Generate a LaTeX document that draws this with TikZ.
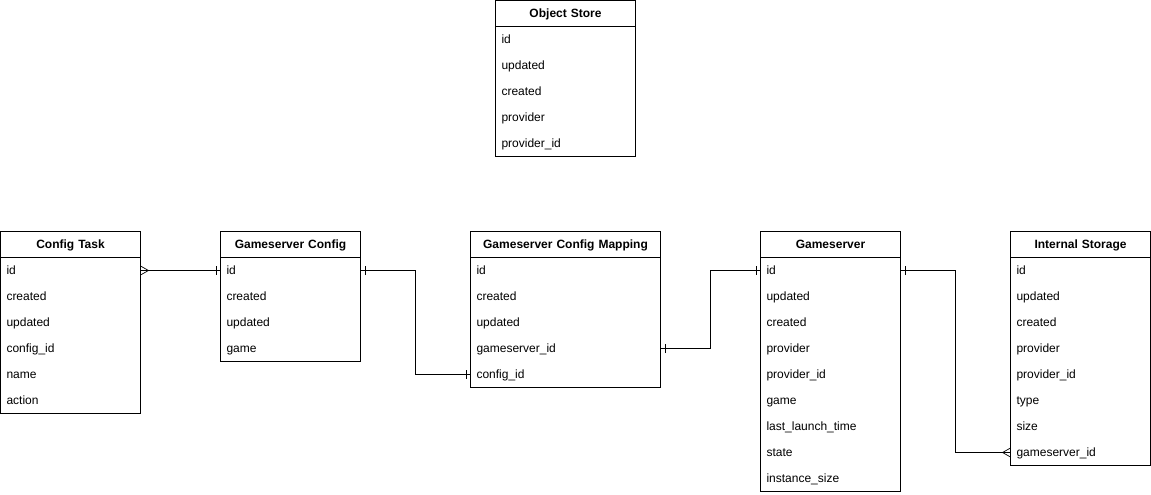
\documentclass[tikz,border=0pt]{standalone}
\usepackage{fontspec}
\setmainfont{Liberation Sans}
\usetikzlibrary{positioning, arrows.meta}

% ER notation tips
\pgfdeclarearrow{
  name = ER one,
  setup code = {
    \pgfarrowssettipend{0pt}
    \pgfarrowssetlineend{0pt}
    \pgfarrowssetbackend{-6pt}
  },
  drawing code = {
    \pgfpathmoveto{\pgfqpoint{-4.5pt}{4.5pt}}
    \pgfpathlineto{\pgfqpoint{-4.5pt}{-4.5pt}}
    \pgfusepathqstroke
  }
}
\pgfdeclarearrow{
  name = ER many,
  setup code = {
    \pgfarrowssettipend{0pt}
    \pgfarrowssetlineend{0pt}
    \pgfarrowssetbackend{-9pt}
  },
  drawing code = {
    \pgfpathmoveto{\pgfqpoint{0pt}{4.5pt}}
    \pgfpathlineto{\pgfqpoint{-8pt}{0pt}}
    \pgfpathlineto{\pgfqpoint{0pt}{-4.5pt}}
    \pgfusepathqstroke
  }
}

\tikzset{
    tablehead/.style={rectangle, draw=black, line width=0.7pt, text width=#1, minimum height=26pt, text height=10pt, text depth=1.5pt, inner xsep=6pt, inner ysep=0pt, outer sep=0pt, align=center, font=\fontsize{12}{14}\selectfont\bfseries},
    tablerow/.style={rectangle, text width=#1, minimum height=26pt, text height=10pt, text depth=1.5pt, inner xsep=6pt, inner ysep=0pt, outer sep=0pt, align=left, font=\fontsize{12}{14}\selectfont},
    tablebody/.style={draw=black, line width=0.7pt},
    erline/.style={draw=black, line width=0.7pt}
}

\begin{document}
\begin{tikzpicture}[x=1pt, y=-1pt]
    \useasboundingbox (0,0) rectangle (1151,495);

    \node (os-head) [tablehead=128pt, anchor=north west] at (495.5, 0.5) {Object Store};
    \node (os-id) [tablerow=128pt, below=0pt of os-head] {id};
    \node (os-updated) [tablerow=128pt, below=0pt of os-id] {updated};
    \node (os-created) [tablerow=128pt, below=0pt of os-updated] {created};
    \node (os-provider) [tablerow=128pt, below=0pt of os-created] {provider};
    \node (os-providerid) [tablerow=128pt, below=0pt of os-provider] {provider\_id};
    \draw [tablebody] (os-head.south west) rectangle (os-providerid.south east);

    \node (ct-head) [tablehead=128pt, anchor=north west] at (0.5, 231.5) {Config Task};
    \node (ct-id) [tablerow=128pt, below=0pt of ct-head] {id};
    \node (ct-created) [tablerow=128pt, below=0pt of ct-id] {created};
    \node (ct-updated) [tablerow=128pt, below=0pt of ct-created] {updated};
    \node (ct-configid) [tablerow=128pt, below=0pt of ct-updated] {config\_id};
    \node (ct-name) [tablerow=128pt, below=0pt of ct-configid] {name};
    \node (ct-action) [tablerow=128pt, below=0pt of ct-name] {action};
    \draw [tablebody] (ct-head.south west) rectangle (ct-action.south east);

    \node (gc-head) [tablehead=128pt, anchor=north west] at (220.5, 231.5) {Gameserver Config};
    \node (gc-id) [tablerow=128pt, below=0pt of gc-head] {id};
    \node (gc-created) [tablerow=128pt, below=0pt of gc-id] {created};
    \node (gc-updated) [tablerow=128pt, below=0pt of gc-created] {updated};
    \node (gc-game) [tablerow=128pt, below=0pt of gc-updated] {game};
    \draw [tablebody] (gc-head.south west) rectangle (gc-game.south east);

    \node (gcm-head) [tablehead=178pt, anchor=north west] at (470.5, 231.5) {Gameserver Config Mapping};
    \node (gcm-id) [tablerow=178pt, below=0pt of gcm-head] {id};
    \node (gcm-created) [tablerow=178pt, below=0pt of gcm-id] {created};
    \node (gcm-updated) [tablerow=178pt, below=0pt of gcm-created] {updated};
    \node (gcm-gameserverid) [tablerow=178pt, below=0pt of gcm-updated] {gameserver\_id};
    \node (gcm-configid) [tablerow=178pt, below=0pt of gcm-gameserverid] {config\_id};
    \draw [tablebody] (gcm-head.south west) rectangle (gcm-configid.south east);

    \node (gs-head) [tablehead=128pt, anchor=north west] at (760.5, 231.5) {Gameserver};
    \node (gs-id) [tablerow=128pt, below=0pt of gs-head] {id};
    \node (gs-updated) [tablerow=128pt, below=0pt of gs-id] {updated};
    \node (gs-created) [tablerow=128pt, below=0pt of gs-updated] {created};
    \node (gs-provider) [tablerow=128pt, below=0pt of gs-created] {provider};
    \node (gs-providerid) [tablerow=128pt, below=0pt of gs-provider] {provider\_id};
    \node (gs-game) [tablerow=128pt, below=0pt of gs-providerid] {game};
    \node (gs-lastlaunch) [tablerow=128pt, below=0pt of gs-game] {last\_launch\_time};
    \node (gs-state) [tablerow=128pt, below=0pt of gs-lastlaunch] {state};
    \node (gs-instancesize) [tablerow=128pt, below=0pt of gs-state] {instance\_size};
    \draw [tablebody] (gs-head.south west) rectangle (gs-instancesize.south east);

    \node (is-head) [tablehead=128pt, anchor=north west] at (1010.5, 231.5) {Internal Storage};
    \node (is-id) [tablerow=128pt, below=0pt of is-head] {id};
    \node (is-updated) [tablerow=128pt, below=0pt of is-id] {updated};
    \node (is-created) [tablerow=128pt, below=0pt of is-updated] {created};
    \node (is-provider) [tablerow=128pt, below=0pt of is-created] {provider};
    \node (is-providerid) [tablerow=128pt, below=0pt of is-provider] {provider\_id};
    \node (is-type) [tablerow=128pt, below=0pt of is-providerid] {type};
    \node (is-size) [tablerow=128pt, below=0pt of is-type] {size};
    \node (is-gameserverid) [tablerow=128pt, below=0pt of is-size] {gameserver\_id};
    \draw [tablebody] (is-head.south west) rectangle (is-gameserverid.south east);

    \draw [erline, ER many-ER one] (ct-id.east) -- (gc-id.west);
    \draw [erline, ER one-ER one] (gc-id.east) -- ++(55,0) |- (gcm-configid.west);
    \draw [erline, ER one-ER one] (gcm-gameserverid.east) -- ++(50,0) |- (gs-id.west);
    \draw [erline, ER one-ER many] (gs-id.east) -- ++(55,0) |- (is-gameserverid.west);
\end{tikzpicture}
\end{document}
